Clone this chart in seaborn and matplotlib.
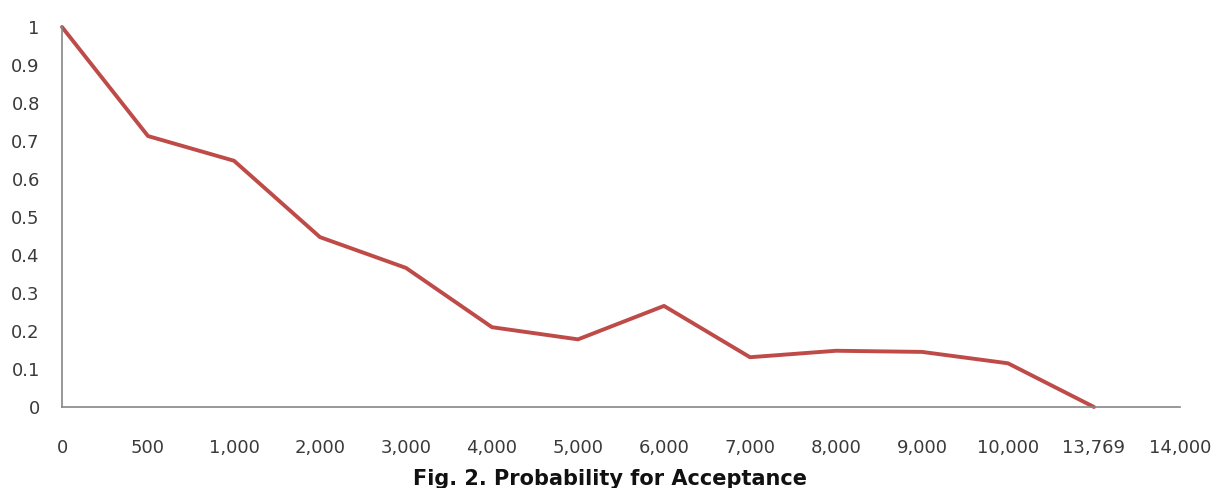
import numpy as np
import pandas as pd
import matplotlib
matplotlib.use("Agg")
import matplotlib.pyplot as plt
import seaborn as sns

# Data
x_labels = ["0", "500", "1,000", "2,000", "3,000", "4,000", "5,000", "6,000",
            "7,000", "8,000", "9,000", "10,000", "13,769", "14,000"]
probability = [1.0, 0.713, 0.648, 0.447, 0.366, 0.21, 0.178, 0.266,
               0.131, 0.148, 0.145, 0.115, 0.0]
y_ticks = [0, 0.1, 0.2, 0.3, 0.4, 0.5, 0.6, 0.7, 0.8, 0.9, 1]
y_tick_labels = ["0", "0.1", "0.2", "0.3", "0.4", "0.5", "0.6", "0.7", "0.8", "0.9", "1"]
title = "Fig. 2. Probability for Acceptance"

sns.set_style("white")
plt.rcParams['font.family'] = ['DejaVu Sans']

df = pd.DataFrame({"pos": np.arange(len(probability)), "p": probability})

fig = plt.figure(figsize=(12.2, 4.88), dpi=100)
ax = fig.add_axes([62/1220, 1 - 407/488, (1180 - 62)/1220, (407 - 27)/488])

sns.lineplot(data=df, x="pos", y="p", ax=ax, color="#BE4B48", linewidth=2.8,
             clip_on=False)

axis_col = "#868686"
ax.set_xlim(0, len(x_labels) - 1)
ax.set_ylim(0, 1)
ax.set_xticks(np.arange(len(x_labels)))
ax.set_xticklabels(x_labels, fontfamily="DejaVu Sans")
ax.set_yticks(y_ticks)
ax.set_yticklabels(y_tick_labels, fontfamily="DejaVu Sans")
ax.set_xlabel("")
ax.set_ylabel("")

for s in ["top", "right"]:
    ax.spines[s].set_visible(False)
for s in ["left", "bottom"]:
    ax.spines[s].set_color(axis_col)
    ax.spines[s].set_linewidth(1.2)

ax.tick_params(axis="both", which="major", direction="out", length=5, width=1.2,
               color=axis_col, labelcolor="#3A3A3A", labelsize=13)
ax.tick_params(axis="x", pad=18)
ax.tick_params(axis="y", pad=11)
ax.grid(False)

fig.text(0.5, 1 - 485/488, title, ha="center", va="baseline", fontsize=15,
         fontweight="bold", color="#111111", family=["DejaVu Sans"])

fig.savefig("out.png", dpi=100)
